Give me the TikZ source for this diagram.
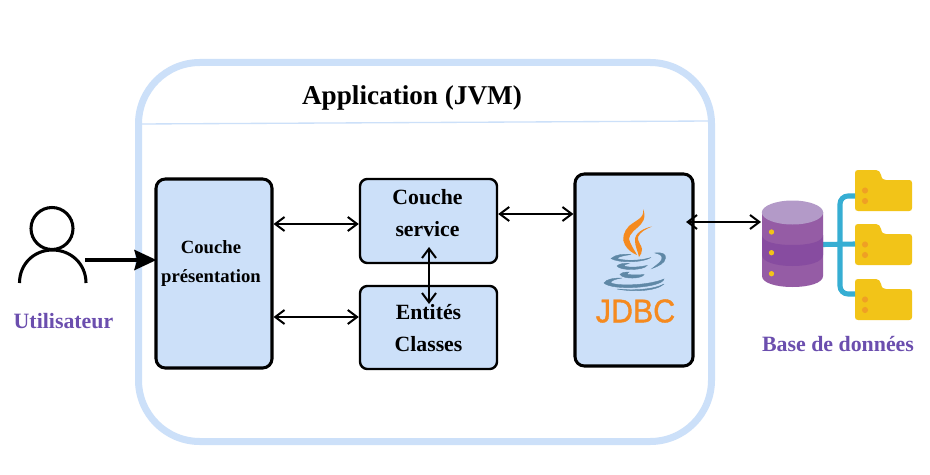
\documentclass[tikz,border=0pt]{standalone}
\usepackage{fontspec}
\setmainfont{Liberation Serif}
\newfontfamily\jdbcfont[FakeBold=1.2]{Liberation Sans}
\usetikzlibrary{arrows.meta}
\definecolor{paleblue}{HTML}{CCE0F9}
\definecolor{violettext}{HTML}{6B4EAE}
\definecolor{javaorange}{HTML}{F58A1F}
\definecolor{javablue}{HTML}{5F88A6}
\definecolor{dbtop}{HTML}{B39AC8}
\definecolor{dbside}{HTML}{955CA5}
\definecolor{dbmid}{HTML}{874CA0}
\definecolor{dbdot}{HTML}{F2C418}
\definecolor{teal}{HTML}{36AED3}
\definecolor{folder}{HTML}{F2C418}
\definecolor{folderdot}{HTML}{EFA024}
\tikzset{
  x=0.75pt,y=-0.75pt,
  container/.style={draw=paleblue,line width=5.25pt,rounded corners=46pt,minimum width=429.75pt,minimum height=284.25pt},
  layerbox/.style={draw=black,fill=paleblue,line width=2.3pt,rounded corners=7pt},
  smallbox/.style={draw=black,fill=paleblue,line width=1.8pt,rounded corners=5.5pt},
  label/.style={font=\bfseries,inner sep=0pt,align=center,text=black},
  biarrow/.style={draw=black,line width=1.6pt,{Straight Barb[length=7pt,width=10.5pt,line width=1.5pt]}-{Straight Barb[length=7pt,width=10.5pt,line width=1.5pt]}},
  userline/.style={draw=black,line width=2.3pt},
  cname/.style={font=\bfseries\fontsize{16.4pt}{20pt}\selectfont,text=violettext,inner sep=0pt},
  flame/.style={fill=javaorange,draw=none},
  cup/.style={fill=javablue,draw=javablue,line width=0.3pt},
  foldershape/.style={fill=folder,draw=none},
  fdot/.style={fill=folderdot,draw=none},
}
\newcommand{\folderat}[3]{%
  \begin{scope}[shift={(#1,#2)}]
    \path[foldershape] (0,3) .. controls (0,1) and (1,0) .. (3,0) -- (21,0) .. controls (24,0) and (25,2) .. (26,5) .. controls (27,9) and (28,10) .. (31,10) -- (54,10) .. controls (56,10) and (57,11) .. (57,13) -- (57,38) .. controls (57,40) and (56,41) .. (54,41) -- (3,41) .. controls (1,41) and (0,40) .. (0,38) -- cycle;
    \fill[fdot] (10,20.5) circle (2.3pt);
    \fill[fdot] (10,31) circle (2.3pt);
    \node[inner sep=0pt,minimum size=0pt] (#3) at (0,20) {};
  \end{scope}}
\begin{document}
\begin{tikzpicture}
\useasboundingbox (0,0) rectangle (930,474);
\fill[white] (0,0) rectangle (930,474);

% application frame
\node[container] (app) at (425,252) {};
\coordinate (sepL) at (140,124);
\coordinate (sepR) at (710,121);
\draw[draw=paleblue,line width=1pt] (sepL) -- (sepR);
\node[label,font=\bfseries\fontsize{20.4pt}{26pt}\selectfont] (title) at (412,97.5) {Application (JVM)};

% layers
\node[layerbox,minimum width=87pt,minimum height=141.75pt] (pres) at (214,273.5) {};
\node[smallbox,minimum width=102.75pt,minimum height=63pt] (svc) at (428.5,221) {};
\node[smallbox,minimum width=102.75pt,minimum height=62.25pt] (ent) at (428.5,327.5) {};
\node[layerbox,minimum width=88.5pt,minimum height=144pt] (jdbc) at (634,270) {};

\node[label,font=\bfseries\fontsize{14pt}{21.75pt}\selectfont] (prestext) at (211,264) {Couche\\présentation};
\node[label,font=\bfseries\fontsize{16.3pt}{24pt}\selectfont] (svctext) at (427.5,213.5) {Couche\\service};
\node[label,font=\bfseries\fontsize{16.3pt}{24pt}\selectfont] (enttext) at (428.5,328) {Entités\\Classes};

% java logo
\path[flame] (643,209) .. controls (647,218) and (642,224) .. (637,228) .. controls (631,233) and (627,238) .. (630,242) .. controls (632,247) and (635,251) .. (637,255) .. controls (632,253) and (628,250) .. (625,245) .. controls (621,239) and (624,231) .. (629,226) .. controls (636,220) and (645,218) .. (643,209) -- cycle;
\path[flame] (652,226.5) .. controls (646,229) and (640,232) .. (638,237) .. controls (637,241) and (642,246) .. (642,249) .. controls (642,252) and (641,255) .. (639,257) .. controls (638,252) and (635,246) .. (635,241) .. controls (634,233) and (644,228) .. (652,226.5) -- cycle;
\path[cup] (611,258.5) .. controls (616,254) and (624,254) .. (631,254.5) .. controls (624,255.5) and (619,256.5) .. (617,258.5) .. controls (624,261) and (640,261) .. (651,257.5) .. controls (642,263) and (618,263) .. (611,258.5) -- cycle;
\path[cup] (655,253) .. controls (662,252) and (666,254) .. (665.5,258) .. controls (665,263) and (659,266) .. (652,268.5) .. controls (658,264) and (662,261) .. (662,258) .. controls (662,255) and (659,254) .. (655,253) -- cycle;
\path[cup] (617,266) .. controls (619,263.5) and (625,263) .. (629,263.5) .. controls (625,264.5) and (624,265) .. (624,266) .. controls (630,268) and (640,267) .. (647,265.5) .. controls (644,270.5) and (620,271) .. (617,266) -- cycle;
\path[cup] (620,274.5) .. controls (622,272) and (626,272) .. (629,272) .. controls (627,273) and (627,274) .. (628,274.5) .. controls (632,275) and (640,275) .. (644,274.5) .. controls (642,279) and (623,279.5) .. (620,274.5) -- cycle;
\path[cup] (604,283) .. controls (606,279) and (614,278) .. (622,278) .. controls (615,279) and (610,281) .. (611,283) .. controls (620,286.5) and (650,285) .. (664,279) .. controls (662,288) and (612,291) .. (604,283) -- cycle;
\path[cup] (617,289) .. controls (635,291) and (655,289) .. (664,284) .. controls (656,291.5) and (632,292) .. (617,289) -- cycle;
\node[inner sep=0pt,text=javaorange] (jdbctext) at (635.5,311) {\scalebox{1}[1.08]{\jdbcfont\fontsize{22.8pt}{26pt}\selectfont JDBC}};

% user
\node[draw=black,line width=2.3pt,circle,minimum size=31.5pt,inner sep=0pt] (head) at (52,228.5) {};
\coordinate (shL) at (19.5,283);
\coordinate (shR) at (86,283);
\draw[userline] (shL) .. controls (19.5,264) and (34,250) .. (52.5,250) .. controls (71,250) and (86,264) .. (86,283);
\node[cname] (utilisateur) at (63.5,321) {Utilisateur};
\coordinate (userout) at (85,260);
\draw[draw=black,line width=3pt,shorten >=-1.5pt,-{Stealth[length=16.5pt,width=15pt,inset=2pt]}] (userout) -- (pres.west |- userout);

% connectors
\coordinate (r1) at (0,224);
\coordinate (r2) at (0,317);
\coordinate (r3) at (0,214);
\coordinate (jdbcout) at (686,222);
\coordinate (dbin) at (761,222);
\coordinate (vt) at (429,247);
\coordinate (vb) at (429,304);
\draw[biarrow] (pres.east |- r1) -- (svc.west |- r1);
\draw[biarrow] (pres.east |- r2) -- (ent.west |- r2);
\draw[biarrow] (svc.east |- r3) -- (jdbc.west |- r3);
\draw[biarrow] (jdbcout) -- (dbin);
\draw[biarrow] (vt) -- (vb);

% folders and links
\folderat{855}{170}{f1}
\folderat{855}{224}{f2}
\folderat{855}{279}{f3}
\coordinate (dbout) at (823,244.5);
\coordinate (trunk) at (840,244.5);
\draw[draw=teal,line width=3.8pt] (dbout) -- (f2.center);
\draw[draw=teal,line width=3.8pt,rounded corners=6pt] (f1.center |- 0,196) -| (trunk) |- (f3.center |- 0,294);

% database
\path[fill=dbside] (762,212) -- (762,276) .. controls (762,283) and (776,287) .. (792.5,287) .. controls (809,287) and (823,283) .. (823,276) -- (823,212) -- cycle;
\path[fill=dbmid] (762,235) .. controls (762,242) and (776,245) .. (792.5,245) .. controls (809,245) and (823,242) .. (823,235) -- (823,255) .. controls (823,262) and (809,266) .. (792.5,266) .. controls (776,266) and (762,262) .. (762,255) -- cycle;
\fill[dbtop] (792.5,212.5) ellipse (23pt and 9pt);
\fill[dbdot] (771.5,232) circle (2pt);
\fill[dbdot] (771.5,252.7) circle (2pt);
\fill[dbdot] (771.5,273.7) circle (2pt);
\node[cname] (bdd) at (838,344.5) {Base de données};
\end{tikzpicture}
\end{document}
